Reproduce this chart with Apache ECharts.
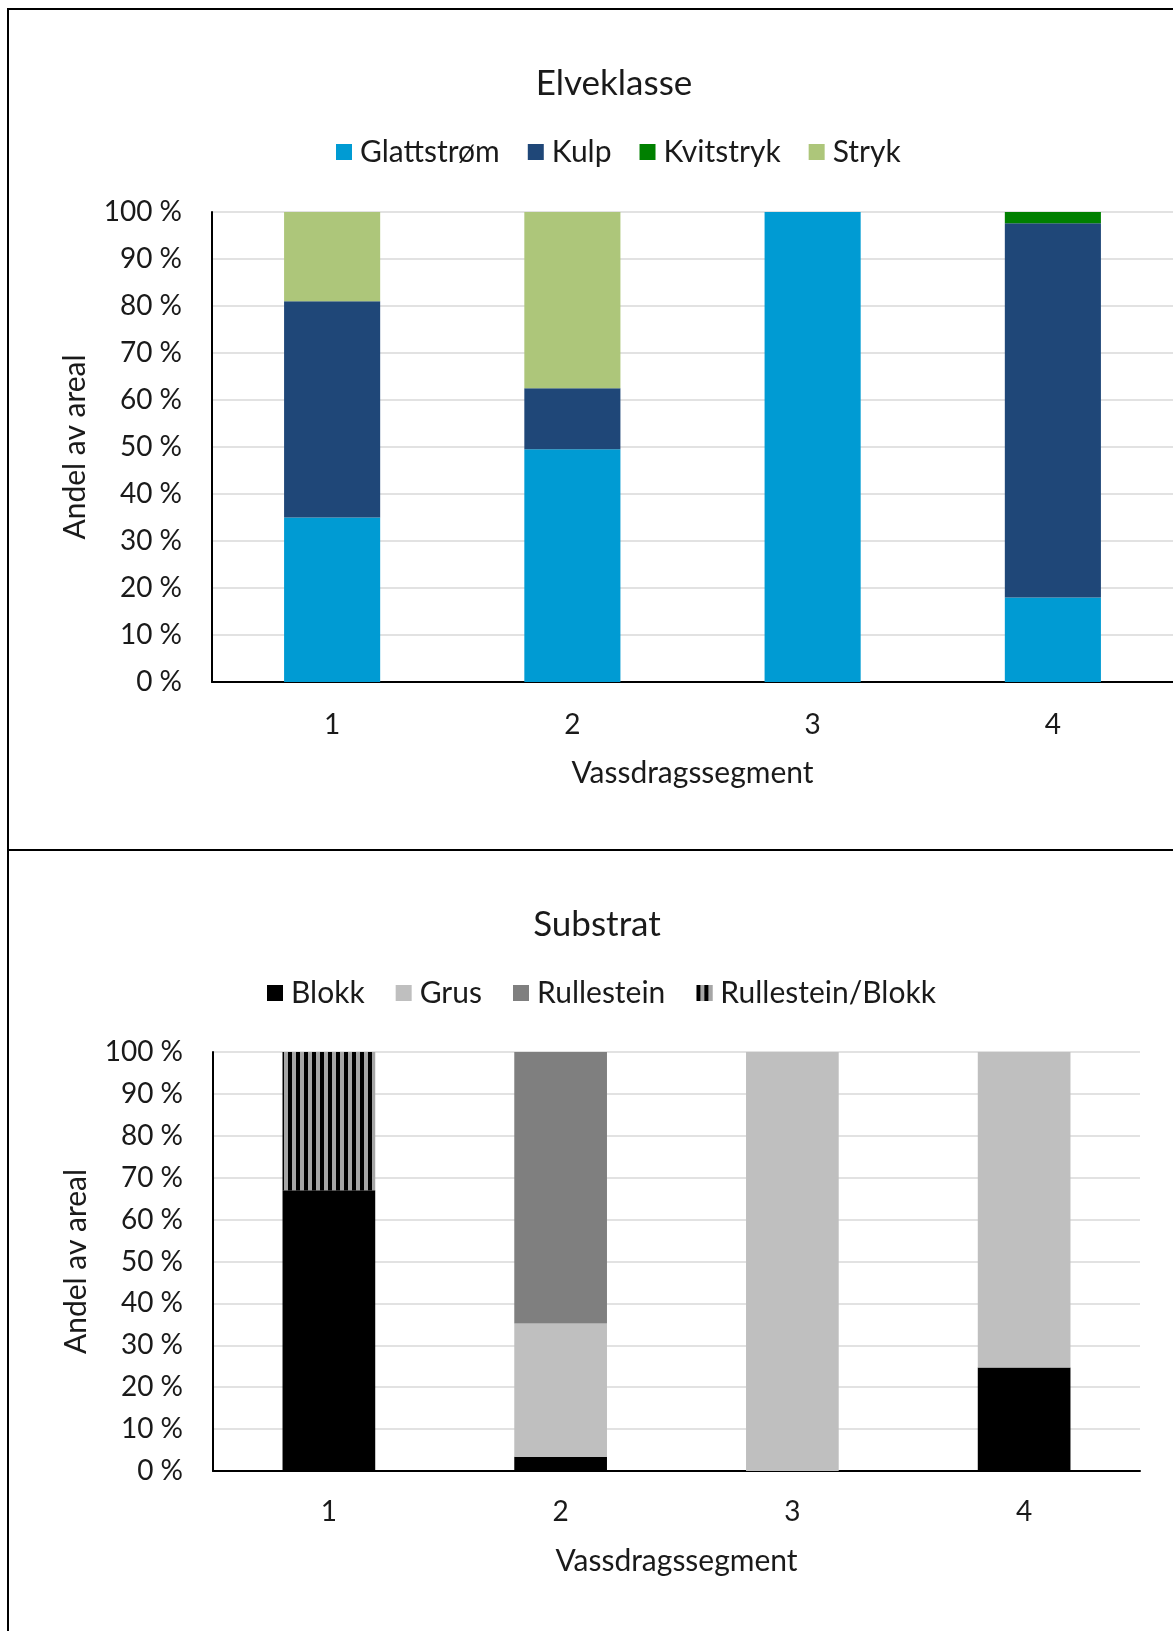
<!DOCTYPE html>
<html>
<head>
<meta charset="utf-8">
<title>Elveklasse og substrat</title>
<script src="https://cdn.jsdelivr.net/npm/echarts@6/dist/echarts.min.js"></script>
<style>
  html, body { margin: 0; padding: 0; background: #fff; }
  #chart { width: 1173px; height: 1631px; }
</style>
</head>
<body>
<div id="chart"></div>
<script>
// segment categories (shared by both charts)
const segments = ['1', '2', '3', '4'];
const yTicks = [0, 10, 20, 30, 40, 50, 60, 70, 80, 90, 100];

// Elveklasse (share of area, %)
const glattstrom = [35, 49.5, 100, 18];
const kulp = [46, 13, 0, 79.6];
const kvitstryk = [0, 0, 0, 2.4];
const stryk = [19, 37.5, 0, 0];

// Substrat (share of area, %)
const blokk = [67, 3.4, 0, 24.7];
const grus = [0, 31.8, 100, 75.3];
const rullestein = [0, 64.8, 0, 0];
const rullesteinBlokk = [33, 0, 0, 0];

const FONT = 'Lato';
const TXT = '#1a1a1a';

// vertical black/grey stripes for Rullestein/Blokk
function stripePattern() {
  const c = document.createElement('canvas');
  c.width = 8;
  c.height = 8;
  const ctx = c.getContext('2d');
  ctx.fillStyle = '#a6a6a6';
  ctx.fillRect(0, 0, 8, 8);
  ctx.fillStyle = '#000';
  ctx.fillRect(0, 0, 4, 8);
  return c;
}

function xAxisFor(gridIndex, labelMargin, nameGap) {
  return {
    type: 'category',
    gridIndex: gridIndex,
    data: segments,
    name: 'Vassdragssegment',
    nameLocation: 'middle',
    nameGap: nameGap,
    nameTextStyle: { fontFamily: FONT, fontSize: 30, color: TXT },
    axisLine: { show: true, lineStyle: { color: '#000', width: 2 } },
    axisTick: { show: false },
    axisLabel: { fontFamily: FONT, fontSize: 28, color: TXT, margin: labelMargin }
  };
}

function yAxisFor(gridIndex) {
  return {
    type: 'value',
    gridIndex: gridIndex,
    min: yTicks[0],
    max: yTicks[yTicks.length - 1],
    interval: yTicks[1] - yTicks[0],
    name: 'Andel av areal',
    nameLocation: 'middle',
    nameGap: 122,
    nameRotate: 90,
    nameTextStyle: { fontFamily: FONT, fontSize: 30, color: TXT },
    axisLine: { show: true, lineStyle: { color: '#000', width: 2 } },
    axisTick: { show: false },
    axisLabel: { fontFamily: FONT, fontSize: 28, color: TXT, margin: 30, formatter: '{value} %' },
    splitLine: { show: true, lineStyle: { color: '#d9d9d9', width: 1.5 } }
  };
}

function bar(name, data, color, idx) {
  return {
    name: name,
    type: 'bar',
    stack: 'total' + idx,
    xAxisIndex: idx,
    yAxisIndex: idx,
    barWidth: '40%',
    itemStyle: { color: color },
    emphasis: { disabled: true },
    data: data
  };
}

const legendText = { fontFamily: FONT, fontSize: 30, color: TXT, padding: [0, 0, 0, 3] };

const chart = echarts.init(document.getElementById('chart'), null, { renderer: 'canvas' });

chart.setOption({
  animation: false,
  backgroundColor: '#fff',
  title: [
    { text: 'Elveklasse', left: 609, top: 61, textAlign: 'center',
      textStyle: { fontFamily: FONT, fontSize: 35, fontWeight: 'normal', color: TXT } },
    { text: 'Substrat', left: 592, top: 902, textAlign: 'center',
      textStyle: { fontFamily: FONT, fontSize: 35, fontWeight: 'normal', color: TXT } }
  ],
  legend: [
    {
      data: ['Glattstrøm', 'Kulp', 'Kvitstryk', 'Stryk'],
      left: 331, top: 132,
      icon: 'rect', itemWidth: 16, itemHeight: 16, itemGap: 28,
      textStyle: legendText
    },
    {
      data: ['Blokk', 'Grus', 'Rullestein', 'Rullestein/Blokk'],
      left: 262, top: 973,
      icon: 'rect', itemWidth: 16, itemHeight: 16, itemGap: 31,
      textStyle: legendText
    }
  ],
  grid: [
    { left: 212, top: 212, width: 964, height: 470 },
    { left: 213, top: 1052, width: 927, height: 419 }
  ],
  xAxis: [xAxisFor(0, 29, 76), xAxisFor(1, 27, 75)],
  yAxis: [yAxisFor(0), yAxisFor(1)],
  series: [
    bar('Glattstrøm', glattstrom, '#009bd3', 0),
    bar('Kulp', kulp, '#1f4778', 0),
    bar('Kvitstryk', kvitstryk, '#008000', 0),
    bar('Stryk', stryk, '#adc67a', 0),
    bar('Blokk', blokk, '#000000', 1),
    bar('Grus', grus, '#bfbfbf', 1),
    bar('Rullestein', rullestein, '#7f7f7f', 1),
    bar('Rullestein/Blokk', rullesteinBlokk, { image: stripePattern(), repeat: 'repeat' }, 1)
  ],
  // chart frames
  graphic: [
    { type: 'polyline', shape: { points: [[1173, 9], [8, 9], [8, 1631]] },
      style: { stroke: '#000', lineWidth: 2, fill: null } },
    { type: 'line', shape: { x1: 8, y1: 850, x2: 1173, y2: 850 },
      style: { stroke: '#000', lineWidth: 2 } }
  ]
});

window.addEventListener('resize', () => chart.resize());
</script>
</body>
</html>
